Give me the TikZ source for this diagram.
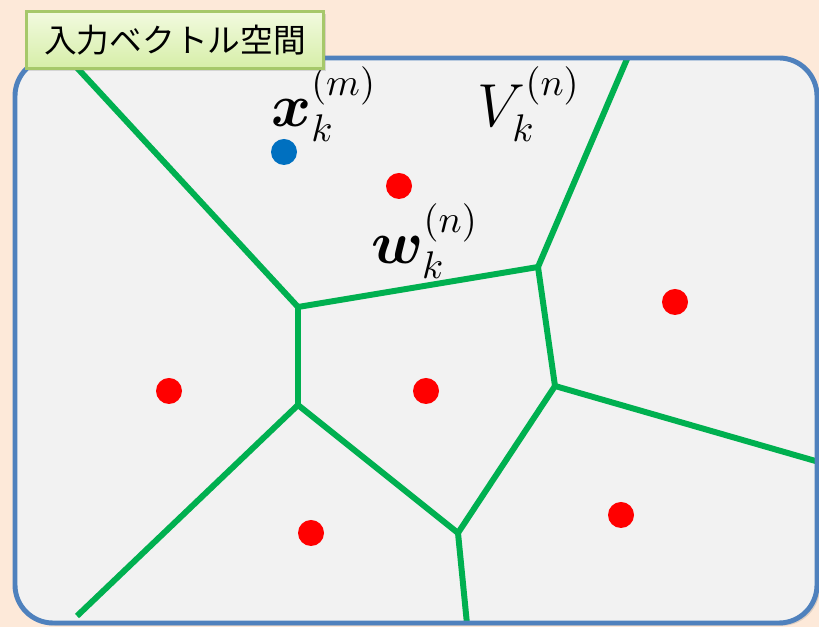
\documentclass[tikz,border=0pt]{standalone}
\usepackage{fontspec}
\usepackage{amsmath}
\usepackage{amssymb}
\usepackage{bm}
\newfontfamily\jpfont{Noto Sans CJK JP}
\usetikzlibrary{positioning}
\usetikzlibrary{shadows}
\definecolor{peach}{HTML}{FDE9D9}
\definecolor{spacegray}{HTML}{F2F2F2}
\definecolor{frameblue}{HTML}{4F81BD}
\definecolor{cellgreen}{HTML}{00B050}
\definecolor{inputblue}{HTML}{0070C0}
\definecolor{titleedge}{HTML}{A6C86A}
\definecolor{titletop}{HTML}{F2FADF}
\definecolor{titlebottom}{HTML}{D6EEA8}

\begin{document}
\begin{tikzpicture}[x=0.1mm, y=-0.1mm,
	   			 spacebox/.style={rounded corners=3.8mm, fill=spacegray, drop shadow={opacity=0.25, shadow xshift=0.8pt, shadow yshift=-0.8pt}},
				 spaceframe/.style={rounded corners=3.8mm, draw=frameblue, line width=1.4pt},
				 cellline/.style={draw=cellgreen, line width=1.7pt},
				 weightnode/.style={circle, fill=red, inner sep=0pt, minimum size=2.6mm},
				 inputnode/.style={circle, fill=inputblue, inner sep=0pt, minimum size=2.6mm},
				 mathnode/.style={inner sep=0pt, font=\fontsize{16}{18}\selectfont},
				 titlenode/.style={rectangle, draw=titleedge, line width=0.6pt, top color=titletop, bottom color=titlebottom, minimum width=29.7mm, minimum height=5.7mm, inner sep=0pt, font=\jpfont\fontsize{9.3}{11}\selectfont, drop shadow={opacity=0.25, shadow xshift=0.8pt, shadow yshift=-0.8pt}},
				 ]
				 % Frame
				 \useasboundingbox[fill=peach] (0,0) rectangle (819,627);
				 \path[spacebox] (15,58) rectangle (817,623);

				 % Vertices
				 \coordinate (v_upper_left)  at (298, 307);
				 \coordinate (v_upper_right) at (538, 267);
				 \coordinate (v_right)       at (555, 386);
				 \coordinate (v_bottom)      at (458, 533);
				 \coordinate (v_lower_left)  at (298, 405);
				 \coordinate (end_top_left)     at (68, 58);
				 \coordinate (end_top)          at (627, 59);
				 \coordinate (end_right)        at (819, 462);
				 \coordinate (end_bottom)       at (467, 624);
				 \coordinate (end_bottom_left)  at (77, 616);

				 % Lines
				 \draw[cellline] (end_top_left) -- (v_upper_left) -- (v_upper_right) -- (end_top);
				 \draw[cellline] (v_upper_left) -- (v_lower_left) -- (end_bottom_left);
				 \draw[cellline] (v_upper_right) -- (v_right) -- (end_right);
				 \draw[cellline] (v_right) -- (v_bottom) -- (end_bottom);
				 \draw[cellline] (v_lower_left) -- (v_bottom);
				 \path[spaceframe] (15,58) rectangle (817,623);

				 % Nodes
				 \node[inputnode]  (x_input)        at (284, 152) {};
				 \node[weightnode] (w_top)          at (399, 186) {};
				 \node[weightnode] (w_right)        at (675, 302) {};
				 \node[weightnode] (w_left)         at (169, 391) {};
				 \node[weightnode] (w_center)       at (426, 391) {};
				 \node[weightnode] (w_bottom_left)  at (311, 533) {};
				 \node[weightnode] (w_bottom_right) at (621, 515) {};

				 \node[mathnode] (x_label) at (324, 104) {$\bm{x}_k^{(m)}$};
				 \node[mathnode] (v_label) at (529, 104) {$V_k^{(n)}$};
				 \node[mathnode] (w_label) at (425, 241) {$\bm{w}_k^{(n)}$};

				 \node[titlenode] (title) at (175, 40) {入力ベクトル空間};
			\end{tikzpicture}
\end{document}
